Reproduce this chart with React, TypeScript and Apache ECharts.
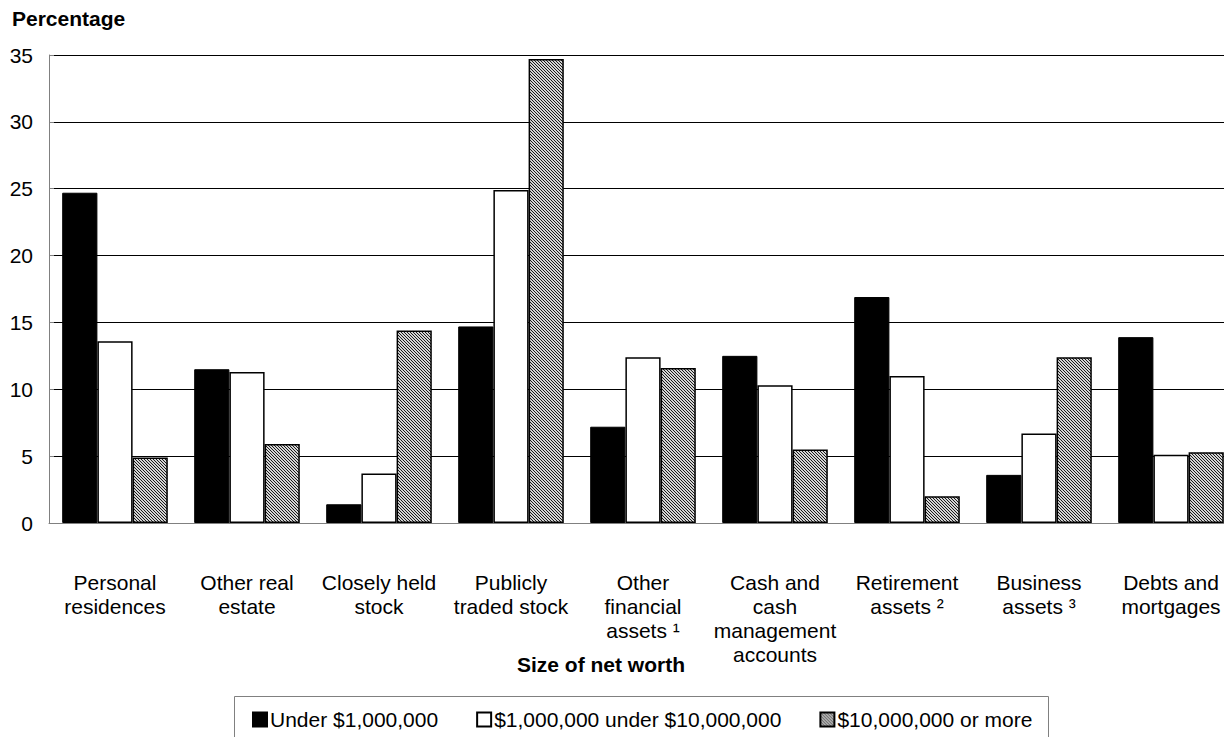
import React, { useEffect, useRef } from "react";
import * as echarts from "echarts";

const categories = [
  "Personal\nresidences",
  "Other real\nestate",
  "Closely held\nstock",
  "Publicly\ntraded stock",
  "Other\nfinancial\nassets ¹",
  "Cash and\ncash\nmanagement\naccounts",
  "Retirement\nassets ²",
  "Business\nassets ³",
  "Debts and\nmortgages",
];

const seriesNames = [
  "Under $1,000,000",
  "$1,000,000 under $10,000,000",
  "$10,000,000 or more",
];

const under1M = [24.7, 11.5, 1.4, 14.7, 7.2, 12.5, 16.9, 3.6, 13.9];
const from1Mto10M = [13.6, 11.3, 3.7, 24.9, 12.4, 10.3, 11.0, 6.7, 5.1];
const over10M = [4.9, 5.9, 14.4, 34.7, 11.6, 5.5, 2.0, 12.4, 5.3];

const yTicks = { min: 0, max: 35, interval: 5 };

const FONT = "'Liberation Sans', Arial, sans-serif";

function makeHatch(): HTMLCanvasElement {
  const n = 3;
  const c = document.createElement("canvas");
  c.width = n;
  c.height = n;
  const ctx = c.getContext("2d")!;
  ctx.fillStyle = "#d4d4d4";
  ctx.fillRect(0, 0, n, n);
  ctx.fillStyle = "#1a1a1a";
  for (let i = 0; i < n; i++) {
    ctx.fillRect(i, i, 1, 1);
  }
  return c;
}

export default function App() {
  const ref = useRef<HTMLDivElement>(null);

  useEffect(() => {
    if (!ref.current) return;
    const chart = echarts.init(ref.current, null, { renderer: "svg" });
    const hatch = {
      image: makeHatch(),
      repeat: "repeat",
      imageWidth: 3,
      imageHeight: 3,
    };
    const barBase = { type: "bar", barGap: "0%", barCategoryGap: "20%" };
    chart.setOption({
      animation: false,
      backgroundColor: "#ffffff",
      textStyle: { fontFamily: FONT },
      grid: { left: 49, right: 0, top: 55, bottom: 214 },
      legend: {
        left: 247,
        top: 704,
        itemWidth: 14,
        itemHeight: 14,
        itemGap: 38,
        icon: "rect",
        textStyle: { fontSize: 21, color: "#000", fontFamily: FONT, padding: [0, 0, 0, -2] },
        data: seriesNames,
      },
      graphic: [
        {
          type: "text",
          left: 12,
          top: 8,
          style: { text: "Percentage", font: `bold 21px ${FONT}`, fill: "#000" },
        },
        {
          type: "text",
          x: 601,
          y: 664,
          style: {
            text: "Size of net worth",
            font: `bold 21px ${FONT}`,
            fill: "#000",
            align: "center",
            verticalAlign: "middle",
          },
        },
        {
          type: "rect",
          shape: { x: 234.5, y: 696.5, width: 814, height: 60 },
          style: { fill: "none", stroke: "#808080", lineWidth: 1 },
          z: 10,
        },
      ],
      xAxis: {
        type: "category",
        data: categories,
        axisLine: { lineStyle: { color: "#808080", width: 1 } },
        axisTick: { show: false },
        axisLabel: {
          interval: 0,
          margin: 47,
          fontSize: 21,
          lineHeight: 24,
          color: "#000",
          fontFamily: FONT,
        },
      },
      yAxis: {
        type: "value",
        min: yTicks.min,
        max: yTicks.max,
        interval: yTicks.interval,
        axisLine: { show: true, lineStyle: { color: "#808080", width: 1 } },
        axisTick: { show: true, inside: true, length: 5, lineStyle: { color: "#808080" } },
        axisLabel: { fontSize: 21, color: "#000", margin: 16, fontFamily: FONT },
        splitLine: { lineStyle: { color: "#000", width: 1 } },
      },
      series: [
        {
          ...barBase,
          name: seriesNames[0],
          data: under1M,
          itemStyle: { color: "#000", borderColor: "#000", borderWidth: 1 },
        },
        {
          ...barBase,
          name: seriesNames[1],
          data: from1Mto10M,
          itemStyle: { color: "#fff", borderColor: "#000", borderWidth: 1.5 },
        },
        {
          ...barBase,
          name: seriesNames[2],
          data: over10M,
          itemStyle: { color: hatch, borderColor: "#000", borderWidth: 1.5 },
        },
      ],
    });
    return () => chart.dispose();
  }, []);

  return (
    <div
      style={{
        position: "fixed",
        left: 0,
        top: 0,
        width: 1224,
        height: 737,
        overflow: "hidden",
        background: "#fff",
      }}
    >
      <div ref={ref} style={{ width: 1237, height: 737 }} />
    </div>
  );
}
